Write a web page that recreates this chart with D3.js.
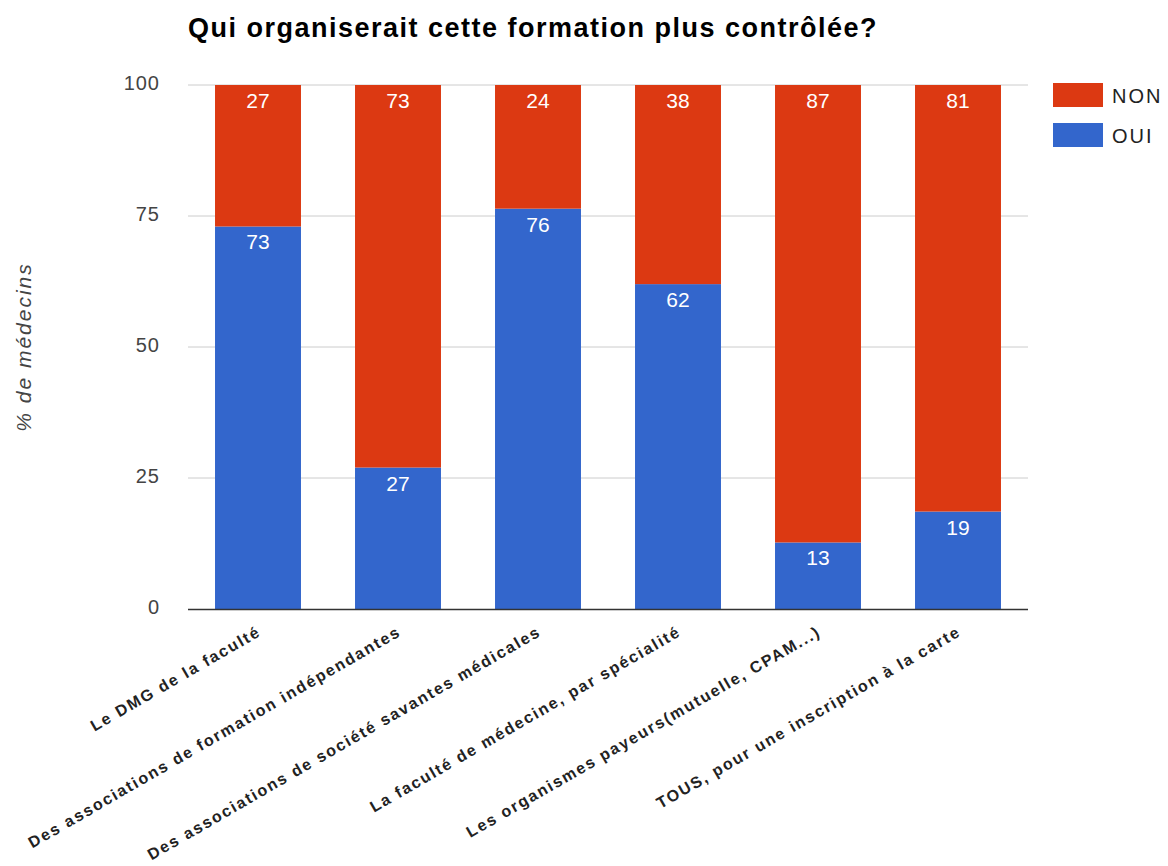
<!DOCTYPE html>
<html lang="fr">
<head>
<meta charset="UTF-8">
<title>Qui organiserait cette formation plus contrôlée?</title>
<script src="https://d3js.org/d3.v7.min.js"></script>
<style>
  body { margin: 0; background: #fff; }
  svg { font-family: Arial, "Liberation Sans", sans-serif; }
</style>
</head>
<body>
<svg id="chart" width="1168" height="866"></svg>
<script>
    // données
    const categories = [
        "Le DMG de la faculté",
        "Des associations de formation indépendantes",
        "Des associations de société savantes médicales",
        "La faculté de médecine, par spécialité",
        "Les organismes payeurs(mutuelle, CPAM...)",
        "TOUS, pour une inscription à la carte"
    ];
    const oui = [73, 27, 76.4, 62, 12.7, 18.6];
    const non = [27, 73, 23.6, 38, 87.3, 81.4];
    const seriesNames = ["OUI", "NON"];
    const seriesColors = ["#3366cc", "#dc3912"];
    const yTicks = [0, 25, 50, 75, 100];

    const margin = { top: 85, left: 188 };
    const innerW = 1028 - margin.left;
    const innerH = 609 - margin.top;

    const svg = d3.select("#chart");
    const g = svg.append("g").attr("transform", `translate(${margin.left},${margin.top})`);

    const x = d3.scaleBand()
        .domain(categories)
        .range([0, innerW])
        .paddingInner(0.386)
        .paddingOuter(0.193);

    const y = d3.scaleLinear().domain([0, 100]).range([innerH, 0]);

    // grille
    g.append("g")
        .selectAll("line")
        .data(yTicks.filter(t => t > 0))
        .enter().append("line")
        .attr("x1", 0).attr("x2", innerW)
        .attr("y1", d => y(d)).attr("y2", d => y(d))
        .attr("stroke", "#cccccc").attr("stroke-width", 1);

    // axe y (labels seulement)
    const yAxis = g.append("g")
        .call(d3.axisLeft(y).tickValues(yTicks).tickSize(0).tickPadding(28));
    yAxis.select(".domain").remove();
    yAxis.selectAll("text")
        .attr("font-size", 20)
        .attr("letter-spacing", 1)
        .attr("fill", "#444")
        .attr("dy", "0.22em")
        .attr("font-family", "Arial, 'Liberation Sans', sans-serif");

    // piles
    const rows = categories.map((c, i) => ({ cat: c, OUI: oui[i], NON: non[i] }));
    const stacked = d3.stack().keys(seriesNames)(rows);
    const color = d3.scaleOrdinal().domain(seriesNames).range(seriesColors);

    const layer = g.selectAll(".layer")
        .data(stacked)
        .enter().append("g")
        .attr("class", "layer")
        .attr("fill", d => color(d.key));

    layer.selectAll("rect")
        .data(d => d)
        .enter().append("rect")
        .attr("x", d => x(d.data.cat))
        .attr("width", x.bandwidth())
        .attr("y", d => y(d[1]))
        .attr("height", d => y(d[0]) - y(d[1]));

    layer.selectAll("text")
        .data(d => d)
        .enter().append("text")
        .attr("x", d => x(d.data.cat) + x.bandwidth() / 2)
        .attr("y", d => y(d[1]) + 23)
        .attr("text-anchor", "middle")
        .attr("font-size", 21)
        .attr("fill", "#ffffff")
        .text(d => d3.format(".0f")(d[1] - d[0]));

    // ligne de base
    g.append("line")
        .attr("x1", 0).attr("x2", innerW)
        .attr("y1", innerH + 0.5).attr("y2", innerH + 0.5)
        .attr("stroke", "#333").attr("stroke-width", 1.5);

    // étiquettes x inclinées
    g.append("g")
        .selectAll("text")
        .data(categories)
        .enter().append("text")
        .attr("transform", d => `translate(${x(d) + x.bandwidth() / 2 + 4},${innerH + 26}) rotate(-30)`)
        .attr("text-anchor", "end")
        .attr("font-size", 16)
        .attr("letter-spacing", 1.8)
        .attr("font-weight", "bold")
        .attr("fill", "#222")
        .text(d => d);

    // titre
    svg.append("text")
        .attr("x", 188).attr("y", 37)
        .attr("font-size", 27)
        .attr("letter-spacing", 1.5)
        .attr("font-weight", "bold")
        .attr("fill", "#000")
        .text("Qui organiserait cette formation plus contrôlée?");

    // titre axe y
    svg.append("text")
        .attr("transform", `translate(31,${(margin.top + 609) / 2}) rotate(-90)`)
        .attr("text-anchor", "middle")
        .attr("font-size", 21)
        .attr("letter-spacing", 2)
        .attr("font-style", "italic")
        .attr("fill", "#444")
        .text("% de médecins");

    // légende
    const legendItems = ["NON", "OUI"];
    const legend = svg.append("g").attr("transform", "translate(1053,83)");
    const li = legend.selectAll("g")
        .data(legendItems)
        .enter().append("g")
        .attr("transform", (d, i) => `translate(0,${i * 40})`);
    li.append("rect")
        .attr("width", 50).attr("height", 24)
        .attr("fill", d => color(d));
    li.append("text")
        .attr("x", 59).attr("y", 20)
        .attr("font-size", 20)
        .attr("letter-spacing", 2)
        .attr("fill", "#222")
        .text(d => d);
</script>
</body>
</html>
